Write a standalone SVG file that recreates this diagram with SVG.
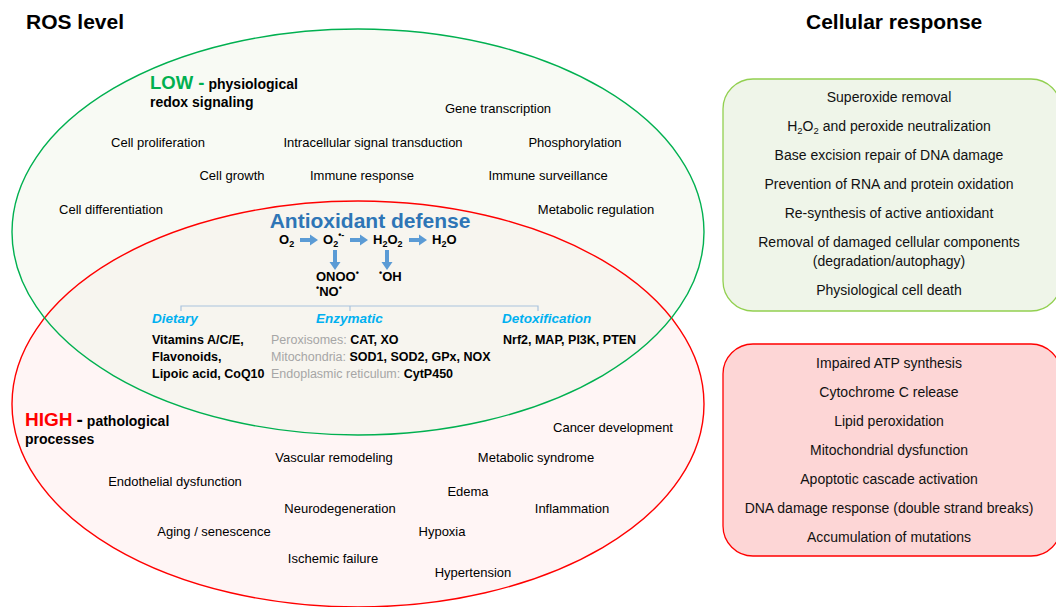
<svg xmlns="http://www.w3.org/2000/svg" width="1056" height="607" viewBox="0 0 1056 607">
<style>
text{font-family:"Liberation Sans",Arial,sans-serif;fill:#000}
.t{font-size:13px;text-anchor:middle}
.r{font-size:14px;text-anchor:middle;fill:#111}
.h{font-size:21px;font-weight:bold}
.b{font-size:12.5px;font-weight:bold}
.g{fill:#a6a6a6;font-weight:normal}
.cat{font-size:13.5px;font-weight:bold;font-style:italic;fill:#00b0f0}
.chem{font-size:13px;font-weight:bold}
.sub{font-size:9px}
.ttl{font-size:21px;font-weight:bold;fill:#2e75b6;text-anchor:middle}
.arr{fill:#5b9bd5}
.br{fill:none;stroke:#a9c4de;stroke-width:1.2}
</style>
<defs>
<clipPath id="cg"><ellipse cx="358" cy="232" rx="346" ry="203"/></clipPath>
</defs>
<rect width="1056" height="607" fill="#fff"/>
<text class="h" x="26" y="29">ROS level</text>
<text class="h" x="806" y="29">Cellular response</text>

<g id="low-ellipse">
<ellipse cx="358" cy="232" rx="346" ry="203" fill="#f8faf4"/>
</g>
<g id="high-ellipse">
<ellipse cx="358" cy="404" rx="346" ry="203" fill="#fff5f5"/>
<ellipse cx="358" cy="404" rx="346" ry="203" fill="#f7f5ef" clip-path="url(#cg)"/>
<ellipse cx="358" cy="404" rx="346" ry="203" fill="none" stroke="#ff0000" stroke-width="1.4"/>
</g>
<ellipse cx="358" cy="232" rx="346" ry="203" fill="none" stroke="#00b050" stroke-width="1.4"/>

<g id="low-labels">
<text x="150" y="89"><tspan font-size="18.5" font-weight="bold" fill="#00b050">LOW -</tspan><tspan font-size="14" font-weight="bold" dx="4">physiological</tspan></text>
<text x="150" y="107" font-size="14" font-weight="bold">redox signaling</text>
<text class="t" x="498" y="113">Gene transcription</text>
<text class="t" x="158" y="147">Cell proliferation</text>
<text class="t" x="373" y="147">Intracellular signal transduction</text>
<text class="t" x="575" y="147">Phosphorylation</text>
<text class="t" x="232" y="180">Cell growth</text>
<text class="t" x="362" y="180">Immune response</text>
<text class="t" x="548" y="180">Immune surveillance</text>
<text class="t" x="111" y="214">Cell differentiation</text>
<text class="t" x="596" y="214">Metabolic regulation</text>
</g>

<g id="antioxidant">
<text class="ttl" x="370" y="228">Antioxidant defense</text>
<text class="chem" x="279" y="244">O<tspan class="sub" dy="3">2</tspan></text>
<text class="chem" x="323" y="244">O<tspan class="sub" dy="3">2</tspan><tspan class="sub" dy="-9">•-</tspan></text>
<text class="chem" x="373" y="244">H<tspan class="sub" dy="3">2</tspan><tspan dy="-3">O</tspan><tspan class="sub" dy="3">2</tspan></text>
<text class="chem" x="432" y="244">H<tspan class="sub" dy="3">2</tspan><tspan dy="-3">O</tspan></text>
<text class="chem" x="316" y="281">ONOO<tspan class="sub" dy="-5">•</tspan></text>
<text class="chem" x="316" y="296"><tspan class="sub" dy="-5">•</tspan><tspan dy="5">NO</tspan><tspan class="sub" dy="-5">•</tspan></text>
<text class="chem" x="379" y="281"><tspan class="sub" dy="-5">•</tspan><tspan dy="5">OH</tspan></text>
</g>

<g id="connectors">
<polygon class="arr" points="300,238 310,238 310,234.5 318,240 310,245.5 310,242 300,242"/>
<polygon class="arr" points="350,238 360,238 360,234.5 368,240 360,245.5 360,242 350,242"/>
<polygon class="arr" points="409,238 419,238 419,234.5 427,240 419,245.5 419,242 409,242"/>
<polygon class="arr" points="333,250 337,250 337,262 340.5,262 335,270 329.5,262 333,262"/>
<polygon class="arr" points="385,250 389,250 389,262 392.5,262 387,270 381.5,262 385,262"/>
<polyline class="br" points="181,311 181,306 538,306 538,311"/>
<line class="br" x1="350" y1="306" x2="350" y2="311"/>
</g>

<g id="dietary">
<text class="cat" x="152" y="323">Dietary</text>
<text class="b" x="152" y="344">Vitamins A/C/E,</text>
<text class="b" x="152" y="361">Flavonoids,</text>
<text class="b" x="152" y="378">Lipoic acid, CoQ10</text>
</g>
<g id="enzymatic">
<text class="cat" x="316" y="323">Enzymatic</text>
<text class="b" x="271" y="344"><tspan class="g">Peroxisomes: </tspan>CAT, XO</text>
<text class="b" x="271" y="361"><tspan class="g">Mitochondria: </tspan>SOD1, SOD2, GPx, NOX</text>
<text class="b" x="271" y="378"><tspan class="g">Endoplasmic reticulum: </tspan>CytP450</text>
</g>
<g id="detox">
<text class="cat" x="502" y="323">Detoxification</text>
<text class="b" x="503" y="344">Nrf2, MAP, PI3K, PTEN</text>
</g>

<g id="high-labels">
<text x="25" y="426"><tspan font-size="19" font-weight="bold" fill="#ff0000">HIGH</tspan><tspan font-size="19" font-weight="bold" dx="4">-</tspan><tspan font-size="14" font-weight="bold" dx="4">pathological</tspan></text>
<text x="25" y="444" font-size="14" font-weight="bold">processes</text>
<text class="t" x="613" y="432">Cancer development</text>
<text class="t" x="334" y="462">Vascular remodeling</text>
<text class="t" x="536" y="462">Metabolic syndrome</text>
<text class="t" x="175" y="486">Endothelial dysfunction</text>
<text class="t" x="468" y="496">Edema</text>
<text class="t" x="340" y="513">Neurodegeneration</text>
<text class="t" x="572" y="513">Inflammation</text>
<text class="t" x="214" y="536">Aging / senescence</text>
<text class="t" x="442" y="536">Hypoxia</text>
<text class="t" x="333" y="563">Ischemic failure</text>
<text class="t" x="473" y="577">Hypertension</text>
</g>

<g id="low-response">
<rect x="723" y="79" width="338" height="232" rx="30" fill="#eff5e9" stroke="#92d050" stroke-width="1.3"/>
<text class="r" x="889" y="102">Superoxide removal</text>
<text class="r" x="889" y="131">H<tspan font-size="9.5" dy="3">2</tspan><tspan dy="-3">O</tspan><tspan font-size="9.5" dy="3">2</tspan><tspan dy="-3"> and peroxide neutralization</tspan></text>
<text class="r" x="889" y="160">Base excision repair of DNA damage</text>
<text class="r" x="889" y="189">Prevention of RNA and protein oxidation</text>
<text class="r" x="889" y="218">Re-synthesis of active antioxidant</text>
<text class="r" x="889" y="247">Removal of damaged cellular components</text>
<text class="r" x="889" y="266">(degradation/autophagy)</text>
<text class="r" x="889" y="295">Physiological cell death</text>
</g>

<g id="high-response">
<rect x="723" y="344" width="338" height="212" rx="30" fill="#fdd6d6" stroke="#ff0000" stroke-width="1.3"/>
<text class="r" x="889" y="368">Impaired ATP synthesis</text>
<text class="r" x="889" y="397">Cytochrome C release</text>
<text class="r" x="889" y="426">Lipid peroxidation</text>
<text class="r" x="889" y="455">Mitochondrial dysfunction</text>
<text class="r" x="889" y="484">Apoptotic cascade activation</text>
<text class="r" x="889" y="513">DNA damage response (double strand breaks)</text>
<text class="r" x="889" y="542">Accumulation of mutations</text>
</g>
</svg>
